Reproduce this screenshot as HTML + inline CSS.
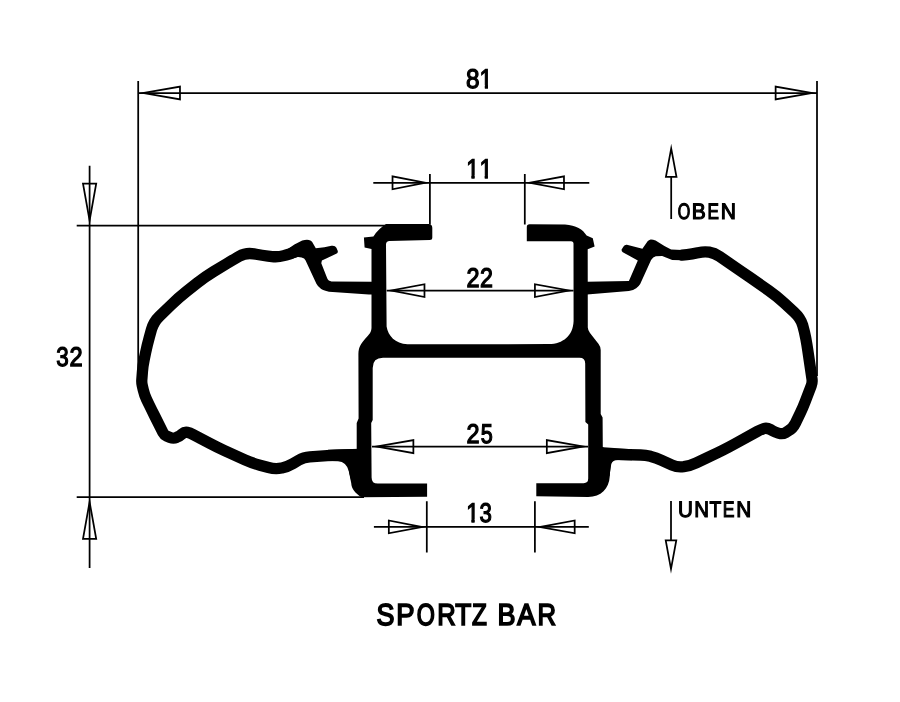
<!DOCTYPE html>
<html><head><meta charset="utf-8"><title>SPORTZ BAR</title>
<style>html,body{margin:0;padding:0;background:#fff}body{width:900px;height:702px;overflow:hidden}svg{display:block;will-change:transform}text{font-family:"Liberation Sans",sans-serif;fill:#000;stroke:#000;stroke-linejoin:miter;white-space:pre}</style>
</head><body>
<svg width="900" height="702" viewBox="0 0 900 702">
<rect width="900" height="702" fill="#fff"/>
<path d="M138.2 81L138.2 376M817 81L817 376M138.2 93L817 93M89.6 165.7L89.6 568M76.7 225.5L388 225.5M76.7 497L364 497M373.3 182.8L589.3 182.8M429.9 174.1L429.9 224.5M524.8 174.1L524.8 224.5M386.7 290.6L573.5 290.6M372 446.6L588 446.6M373.9 526.9L588.8 526.9M426.8 501.3L426.8 552.5M534.9 501.3L534.9 552.5M671.2 177L671.2 219M671 501L671 540.4" fill="none" stroke="#000" stroke-width="1.75" stroke-linejoin="miter" stroke-miterlimit="3"/>
<path d="M300 249.5L293.65 252.36Q290 254 286.14 255.03L283.8 255.65Q278 257.2 272.04 256.53L267.96 256.07Q262 255.4 256.1 254.29L253.86 253.87Q246 252.4 239.06 256.38L236.9 257.62Q231.7 260.6 226.57 263.71L213.55 271.61Q205 276.8 197.17 283.02L186.13 291.78Q178.3 298 171.11 304.95L159.35 316.34Q153.6 321.9 151.46 329.61L149.34 337.29Q147.2 345 145.57 352.83L144.13 359.73Q142.9 365.6 142.44 371.58L141.83 379.61Q141.6 382.6 142.26 385.53L143.3 390.12Q144.4 395 146.59 399.5L149.07 404.6Q151.7 410 154.38 415.37L163.08 432.76Q164.2 435 166.52 435.93L170.15 437.39Q173.4 438.7 176.45 437.45L176.72 437.34Q179.5 436.2 181.75 434.22L182.05 433.95Q184.6 431.7 187.25 432.25L187.25 432.25Q189.9 432.8 193.43 434.68L209.64 443.33Q216.7 447.1 223.99 450.39L244.91 459.81Q252.2 463.1 259.93 465.17L268.54 467.49Q275.3 469.3 281.55 468L281.93 467.92Q287.8 466.7 292.96 463.64L298.64 460.26Q303.8 457.2 309.79 456.8L327.21 455.63Q332.2 455.3 337.2 455.15L356 454.6" fill="none" stroke="#000" stroke-width="11.3" stroke-linejoin="round" stroke-linecap="round"/>
<path d="M682 255.2L687 254.7Q692 254.2 697.83 252.79L698.17 252.71Q704 251.3 709.25 252.15L709.25 252.15Q714.5 253 719.45 256.39L732.85 265.55Q741.1 271.2 749.29 276.93L768.51 290.37Q776.7 296.1 784.04 302.89L794.09 312.19Q800.7 318.3 802.65 325.15L802.96 326.23Q804.6 332 805.69 337.9L805.91 339.1Q807 345 807.87 350.94L811.99 378.94Q812.5 382.4 811.25 385.67L805.14 401.69Q803 407.3 800.41 412.71L795.37 423.24Q793 428.2 788.26 430.98L785.62 432.53Q782.6 434.3 779.23 433.36L778.29 433.1Q775.4 432.3 772.77 430.85L770.4 429.54Q766.9 427.6 763.8 428.6L763.8 428.6Q760.7 429.6 757.2 431.54L735.7 443.43Q728.7 447.3 722.7 450.3L722.7 450.3Q716.7 453.3 709.45 456.69L696.34 462.83Q690 465.8 683.8 466.7L683.54 466.74Q677.6 467.6 672.14 465.1L661.66 460.3Q656.2 457.8 650.9 456.45L650.45 456.33Q645.6 455.1 640.6 454.99L606 454.2" fill="none" stroke="#000" stroke-width="11.3" stroke-linejoin="round" stroke-linecap="round"/>
<path d="M138.2 93L180.85 100.45L180.85 85.55ZM148.37 93L179.1 87.63L179.1 98.37ZM817 93L774.75 85.55L774.75 100.45ZM806.92 93L776.5 98.36L776.5 87.64ZM89.6 225.5L97.25 182.75L81.95 182.75ZM89.6 215.57L84.04 184.5L95.16 184.5ZM89.6 497L81.95 539.85L97.25 539.85ZM89.6 506.96L95.16 538.1L84.04 538.1ZM429.9 182.8L391.65 175.35L391.65 190.25ZM420.75 182.8L393.4 188.13L393.4 177.47ZM524.8 182.8L564.85 190.25L564.85 175.35ZM534.37 182.8L563.1 177.46L563.1 188.14ZM386.4 290.6L425.35 298.05L425.35 283.15ZM395.72 290.6L423.6 285.27L423.6 295.93ZM573.8 290.6L534.05 283.15L534.05 298.05ZM564.3 290.6L535.8 295.94L535.8 285.26ZM371.6 446.6L414.25 454.15L414.25 439.05ZM381.64 446.6L412.5 441.14L412.5 452.06ZM588.2 446.6L545.95 439.05L545.95 454.15ZM578.25 446.6L547.7 452.06L547.7 441.14ZM426.8 526.9L387.95 519.45L387.95 534.35ZM417.51 526.9L389.7 532.23L389.7 521.57ZM534.9 526.9L575.55 534.35L575.55 519.45ZM544.61 526.9L573.8 521.55L573.8 532.25ZM671.2 143.7L664.85 177.85L677.55 177.85ZM671.2 153.27L675.44 176.1L666.96 176.1ZM671 573.7L677.35 539.55L664.65 539.55ZM671 564.13L666.76 541.3L675.24 541.3Z" fill="#000" fill-rule="evenodd"/>
<path d="M386 224 L428.4 224 Q432.3 224 432.3 227.8 L432.3 237.4 Q432.3 239.9 429.8 239.9 L389.6 241 Q386 241.1 386 244.4 L386.6 326.5 C388.2 336 395 343.6 407.5 344.3 L549 344.1 C563 343.8 573 336 573.6 321 L573.5 243.8 Q573.5 241.2 571 241.2 L526.8 241.2 L526.8 227 Q526.8 224.3 529.6 224.3 L565 224.5 C576 225.4 583 229.4 586.6 235.6 L592.8 238.2 L594.6 246.6 L587.7 249.2 L587.8 327.5 Q588 330.6 590 333 L598.6 344 Q600.7 346.8 600.7 350 L600.7 414 L602.6 417.5 L602.8 447 C607 450 611 455 610.6 464 L609.8 476 C609 489 601 496.9 588.2 496.9 L536.3 496.3 L536.3 483.2 L583.6 483.2 Q588.2 483.2 588.2 478.6 L588.2 424.5 L585.4 422 L585.2 363.5 Q585.2 357.8 579.5 357.8 L383 357.8 Q372.7 357.8 372.7 368 L372.7 420 L371.2 423 L371.6 477.4 Q371.6 483.6 377.8 483.6 L427.1 483.4 L427.1 496.8 L361.5 497.2 C355 493 351.6 489 351.2 483 L348.8 471 C348 462 351 453 356.7 449 L356.7 423 L358.6 418.5 L358.4 354 C358.6 347 361 343.5 365.6 338.2 C369 334.5 371.3 332.5 371.5 328 L371.5 248.9 L364.6 247.6 L363.9 237.6 L373.4 236.4 Q378.6 228.6 386 224 Z" fill="#000"/>
<path d="M287.8 248.9 L294.4 244.4 L302.2 240.6 Q306 239.5 308.9 240 Q311.3 240.5 312.2 241.9 L315.8 248.2 L324.4 247.2 L331.4 245.8 Q335 245.1 336.4 247.8 L337.6 250.4 Q338.5 252.8 336.2 253.8 L321.9 260.5 L321.3 263.3 L327.2 278.3 Q328.3 281.2 331.5 281.4 L372 281.7 L372 294.5 L368.9 294.4 L329 291.8 Q323 290.6 320.6 288.6 Q317.8 286.4 316.4 283.8 L305.6 260.6 Q304.6 258 301.6 257.4 Q299.6 256.8 297.8 256.9 L291.1 259.1 Z" fill="#000"/>
<path d="M682 250 L671.1 249.4 L664.4 246.1 L655.6 240.6 Q652.6 239.2 650.6 239.4 Q648.8 239.8 647.6 241.3 L642.4 248.7 L626.9 244.8 Q624.6 244.6 623.5 246.4 L621.6 249.6 Q621.4 251.4 622.8 252.2 L637.8 260.5 L628.9 280.9 L587 281.7 L587 294.5 L628.9 291.1 Q633.5 290.4 636.2 288.3 Q638.6 286.6 640.2 284 L651.1 260 Q653 257 655.8 256.2 L662.2 256.1 L672.2 260 L682 260.3 Z" fill="#000"/>
<path d="M328 449.8 L360 448.8 L362 480 L351 480 L348.8 471.1 Q346.4 461.8 338 461.2 L328 461 Z" fill="#000"/>
<path d="M632 449.2 L600 447 L598 476 L609.4 476 L611.3 464 Q612.6 460.3 618 460.1 L632 460.2 Z" fill="#000"/>
<defs><clipPath id="c1"><path d="M464.4 64.2H480V92H464.4ZM477 64.2H488.6V85.09H477ZM484.84 84.99H488V92H484.84Z"/></clipPath><clipPath id="c2"><path d="M463.6 154.2H475.2V175.09H463.6ZM471.44 174.99H474.6V182H471.44ZM476.9 154.2H488.5V175.09H476.9ZM484.74 174.99H487.9V182H484.74Z"/></clipPath><clipPath id="c3"><path d="M463.6 498.2H475.2V519.09H463.6ZM471.44 518.99H474.6V526H471.44ZM479.1 498.2H492.3V526H479.1Z"/></clipPath></defs>
<g>
<g clip-path="url(#c1)"><text transform="translate(466.4 88) rotate(0.03)" font-size="26.89" stroke-width="1.3"><tspan x="-0.47" textLength="13.54" lengthAdjust="spacingAndGlyphs">8</tspan><tspan x="13.18" textLength="12.86" lengthAdjust="spacingAndGlyphs">1</tspan></text></g>
<g clip-path="url(#c2)"><text transform="translate(468 178) rotate(0.03)" font-size="26.89" stroke-width="1.3"><tspan x="-1.82" textLength="12.86" lengthAdjust="spacingAndGlyphs">1</tspan><tspan x="11.48" textLength="12.86" lengthAdjust="spacingAndGlyphs">1</tspan></text></g>
<text transform="translate(467.1 287) rotate(0.03)" font-size="26.89" stroke-width="1.3"><tspan x="-0.61" textLength="13.02" lengthAdjust="spacingAndGlyphs">2</tspan><tspan x="12.89" textLength="12.91" lengthAdjust="spacingAndGlyphs">2</tspan></text>
<text transform="translate(467.1 443) rotate(0.03)" font-size="26.89" stroke-width="1.3"><tspan x="-0.61" textLength="13.02" lengthAdjust="spacingAndGlyphs">2</tspan><tspan x="13.56" textLength="12.03" lengthAdjust="spacingAndGlyphs">5</tspan></text>
<g clip-path="url(#c3)"><text transform="translate(468 522) rotate(0.03)" font-size="26.89" stroke-width="1.3"><tspan x="-1.82" textLength="12.86" lengthAdjust="spacingAndGlyphs">1</tspan><tspan x="11.39" textLength="12.35" lengthAdjust="spacingAndGlyphs">3</tspan></text></g>
<text transform="translate(56.5 366) rotate(0.03)" font-size="26.89" stroke-width="1.3"><tspan x="-0.31" textLength="12.45" lengthAdjust="spacingAndGlyphs">3</tspan><tspan x="13.08" textLength="13.13" lengthAdjust="spacingAndGlyphs">2</tspan></text>
<text transform="translate(678 219) rotate(0.03)" font-size="22.38" stroke-width="1.2"><tspan x="-0.33" textLength="12.47" lengthAdjust="spacingAndGlyphs">O</tspan><tspan x="13.74" textLength="14" lengthAdjust="spacingAndGlyphs">B</tspan><tspan x="29.55" textLength="11.42" lengthAdjust="spacingAndGlyphs">E</tspan><tspan x="42.84" textLength="15.22" lengthAdjust="spacingAndGlyphs">N</tspan></text>
<text transform="translate(679 517) rotate(0.03)" font-size="22.38" stroke-width="1.2"><tspan x="-1.04" textLength="14.87" lengthAdjust="spacingAndGlyphs">U</tspan><tspan x="15.27" textLength="14.75" lengthAdjust="spacingAndGlyphs">N</tspan><tspan x="30.58" textLength="11.74" lengthAdjust="spacingAndGlyphs">T</tspan><tspan x="43.63" textLength="11.76" lengthAdjust="spacingAndGlyphs">E</tspan><tspan x="57.15" textLength="14.98" lengthAdjust="spacingAndGlyphs">N</tspan></text>
<text transform="translate(376.9 625) rotate(0.03)" font-size="30.23" stroke-width="1.7"><tspan x="-0.47" textLength="17.94" lengthAdjust="spacingAndGlyphs">S</tspan><tspan x="19.42" textLength="18.25" lengthAdjust="spacingAndGlyphs">P</tspan><tspan x="39.85" textLength="18.11" lengthAdjust="spacingAndGlyphs">O</tspan><tspan x="60.32" textLength="18.44" lengthAdjust="spacingAndGlyphs">R</tspan><tspan x="78.35" textLength="16.02" lengthAdjust="spacingAndGlyphs">T</tspan><tspan x="95.01" textLength="14.86" lengthAdjust="spacingAndGlyphs">Z</tspan><tspan x="112.1"> </tspan><tspan x="120.54" textLength="18.02" lengthAdjust="spacingAndGlyphs">B</tspan><tspan x="140.41" textLength="18.17" lengthAdjust="spacingAndGlyphs">A</tspan><tspan x="160.71" textLength="18.55" lengthAdjust="spacingAndGlyphs">R</tspan></text>
</g>
</svg>
</body></html>
